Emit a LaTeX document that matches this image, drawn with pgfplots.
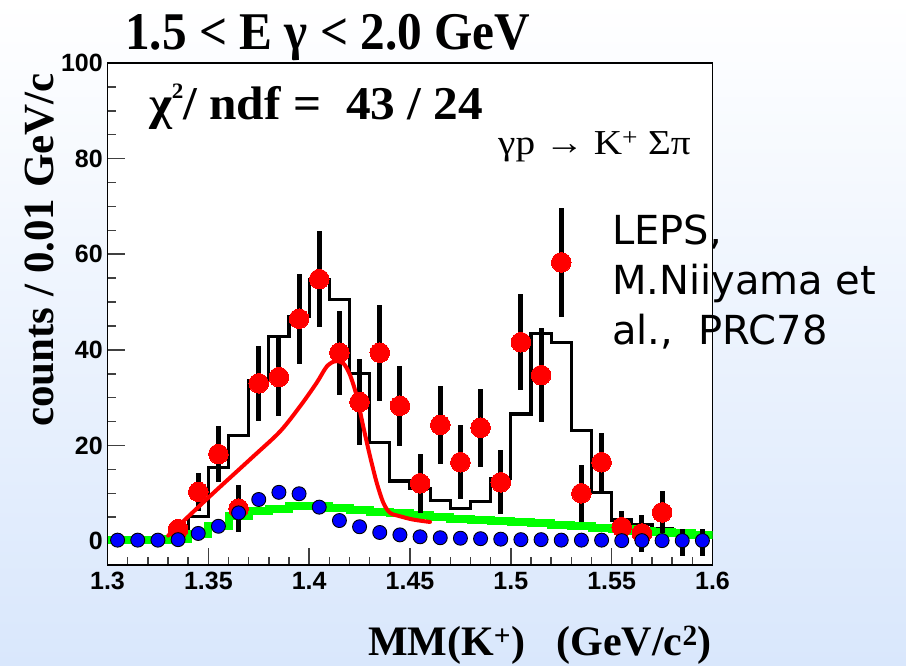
\documentclass[border=0pt]{standalone}
\usepackage{fontspec}
\usepackage{pgfplots}
\usepackage{pgfplotstable}
\pgfplotsset{compat=1.18}
\setmainfont{Liberation Serif}
\newfontfamily\tickfont{Liberation Sans}
\newfontfamily\lepsfont{DejaVu Sans}

\pgfplotstableread{
x y e
1.335 2.5 1.7
1.345 10.3 4.0
1.355 18.2 5.8
1.365 6.8 5.0
1.375 33.0 7.8
1.385 34.3 8.2
1.395 46.5 9.4
1.405 54.8 10.0
1.415 39.4 8.8
1.425 29.1 8.9
1.435 39.4 10.0
1.445 28.3 8.4
1.455 12.1 6.2
1.465 24.3 8.2
1.475 16.5 7.7
1.485 23.7 8.1
1.495 12.3 6.7
1.505 41.6 10.0
1.515 34.7 9.8
1.525 58.3 11.4
1.535 10.0 6.0
1.545 16.5 6.2
1.555 2.9 3.3
1.565 1.6 3.8
1.575 6.0 4.4
}\reddata

\pgfplotstableread{
x y e
1.585 -0.3 2.9
1.595 -0.3 2.9
}\reddatazero

\pgfplotstableread{
x y
1.33 1.0
1.34 5.2
1.35 15.4
1.36 22.1
1.37 33.6
1.38 42.8
1.39 47.0
1.40 54.6
1.41 50.6
1.42 35.0
1.43 20.6
1.44 12.6
1.45 11.0
1.46 8.5
1.47 6.8
1.48 8.3
1.49 13.1
1.50 26.6
1.51 43.4
1.52 41.5
1.53 23.1
1.54 10.2
1.55 4.4
1.56 3.5
1.57 2.5
1.58 1.6
1.59 1.2
1.60 1.2
}\blackhist

\pgfplotstableread{
x y
1.30 0.2
1.33 0.5
1.34 1.4
1.35 3.1
1.36 5.2
1.37 6.2
1.38 6.7
1.39 7.3
1.40 7.4
1.41 7.0
1.42 6.6
1.43 6.1
1.44 5.8
1.45 5.4
1.46 5.0
1.47 4.7
1.48 4.4
1.49 4.1
1.50 3.9
1.51 3.7
1.52 3.4
1.53 3.1
1.54 2.8
1.55 2.5
1.56 2.2
1.57 1.9
1.58 1.6
1.59 1.3
1.60 1.3
}\greenhist

\pgfplotstableread{
x y
1.305 0.2
1.315 0.2
1.325 0.2
1.335 0.3
1.345 1.6
1.355 3.1
1.365 5.9
1.375 8.7
1.385 10.2
1.395 9.9
1.405 7.1
1.415 4.3
1.425 3.0
1.435 1.8
1.445 1.3
1.455 0.9
1.465 0.7
1.475 0.6
1.485 0.5
1.495 0.4
1.505 0.3
1.515 0.3
1.525 0.2
1.535 0.2
1.545 0.2
1.555 0.1
1.565 0.1
1.575 0.1
1.585 0.1
1.595 0.1
}\bluedata

\pgfplotstableread{
x y
1.3301 1.15
1.3508 9.4
1.3715 17.4
1.3855 22.9
1.3955 28.2
1.4037 33.1
1.4087 36.5
1.4128 37.6
1.4169 37.2
1.4202 34.8
1.4236 30.3
1.4268 24.0
1.4302 17.7
1.4335 12.2
1.4368 8.0
1.4401 5.9
1.4450 5.2
1.4516 4.5
1.4599 4.0
}\redcurve

\begin{document}
\begin{tikzpicture}[x=1pt,y=1pt]
\useasboundingbox (0,0) rectangle (906,665);
\shade[top color=white, bottom color={rgb,255:red,217;green,231;blue,252}] (0,0) rectangle (906,665);
\begin{axis}[
  at={(107.5pt,100pt)}, anchor=south west,
  scale only axis, width=605pt, height=502pt,
  xmin=1.3, xmax=1.6, ymin=-5, ymax=100,
  axis background/.style={fill=white},
  axis line style={line width=1.4pt, black},
  xtick={1.3,1.35,1.4,1.45,1.5,1.55,1.6},
  xticklabels={1.3,1.35,1.4,1.45,1.5,1.55,1.6},
  ytick={0,20,40,60,80,100},
  yticklabels={0,20,40,60,80,100},
  minor x tick num=4, minor y tick num=3,
  xtick pos=bottom, ytick pos=left,
  tick align=inside,
  major tick length=17pt, minor tick length=8.5pt,
  every tick/.style={black!75, line width=1.5pt},
  ticklabel style={font={\tickfont\bfseries\fontsize{25}{25}\selectfont}},
  xticklabel style={inner sep=0pt, yshift=-7pt},
  yticklabel style={inner sep=0pt, xshift=-4.5pt},
]
\addplot[const plot mark left, black, line width=3.3pt, line join=miter] table[x=x,y=y] {\blackhist};
\addplot[const plot mark left, color={rgb,255:red,0;green,255;blue,0}, line width=8pt, line join=miter, line cap=butt] table[x=x,y=y] {\greenhist};
\addplot[draw=none, mark=none, error bars/.cd, y dir=both, y explicit, error mark=none,
  error bar style={draw=black, line width=5pt}] table[x=x,y=y,y error=e] {\reddata};
\addplot[draw=none, mark=none, error bars/.cd, y dir=both, y explicit, error mark=none,
  error bar style={draw=black, line width=5pt}] table[x=x,y=y,y error=e] {\reddatazero};
\addplot[only marks, mark=*, mark size=9.8pt, mark options={fill=red, draw=red, line width=0pt}] table[x=x,y=y] {\reddata};
\addplot[red, line width=4pt, smooth, line join=round, line cap=round] table[x=x,y=y] {\redcurve};
\addplot[only marks, mark=*, mark size=7pt, mark options={fill=blue, draw=black, line width=0.9pt}] table[x=x,y=y] {\bluedata};
\end{axis}
\node[anchor=base west, inner sep=0, font={\bfseries\fontsize{53}{53}\selectfont}] at (125,615) {\scalebox{0.93}[1]{1.5 < E γ < 2.0 GeV}};
\node[anchor=base west, inner sep=0, font={\bfseries\fontsize{47}{47}\selectfont}] at (149,545) {\scalebox{1.05}[1]{χ\raisebox{0.45em}{\fontsize{22}{22}\selectfont 2}/ ndf =\ \ 43 / 24}};
\node[anchor=base west, inner sep=0, font={\fontsize{35}{35}\selectfont}] at (498,510) {\scalebox{1.12}[1]{γp → K\textsuperscript{+} Σπ}};
\node[anchor=base west, inner sep=0, font={\lepsfont\fontsize{40}{40}\selectfont}] at (612,420) {LEPS,};
\node[anchor=base west, inner sep=0, font={\lepsfont\fontsize{40}{40}\selectfont}] at (612,370) {M.Niiyama et};
\node[anchor=base west, inner sep=0, font={\lepsfont\fontsize{40}{40}\selectfont}] at (612,320) {al.,\ \ PRC78};
\node[anchor=base east, inner sep=0, font={\bfseries\fontsize{42}{42}\selectfont}] at (712,10) {MM(K\textsuperscript{+})\ \ \ (GeV/c\textsuperscript{2})};
\node[rotate=90, anchor=base west, inner sep=0, font={\bfseries\fontsize{43}{43}\selectfont}] at (53,238) {counts / 0.01 GeV/c};
\end{tikzpicture}
\end{document}
